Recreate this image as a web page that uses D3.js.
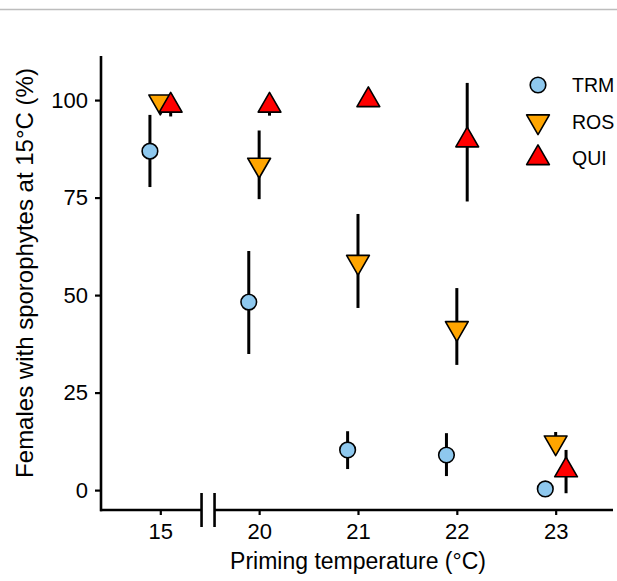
<!DOCTYPE html>
<html>
<head>
<meta charset="utf-8">
<script src="https://cdn.jsdelivr.net/npm/d3@7"></script>
<style>
  body { margin: 0; background: #fff; }
  svg { display: block; font-family: "Liberation Sans", Arial, sans-serif; }
</style>
</head>
<body>
<div id="chart"></div>
<script>
// categories on the x axis (priming temperature)
const temps = ["15", "20", "21", "22", "23"];
const groups = ["TRM", "ROS", "QUI"];

// mean % and error bar ends, per group, per temperature
const trmMean = [86.9, 48.2, 10.3, 9.0, 0.3];
const trmHi   = [96.2, 61.3, 15.1, 14.6, 0.3];
const trmLo   = [77.7, 34.9, 5.4, 3.6, 0.3];

const rosMean = [99.6, 83.4, 58.5, 41.5, 12.2];
const rosHi   = [99.6, 92.2, 70.8, 51.8, 14.9];
const rosLo   = [99.6, 74.6, 46.7, 32.1, 12.2];

const quiMean = [98.6, 98.6, 100, 89.7, 5.1];
const quiHi   = [99.6, 99.6, 100, 104.4, 10.3];
const quiLo   = [95.8, 96.0, 100, 74.0, -0.8];

const yTicks = [0, 25, 50, 75, 100];

const W = 617, H = 581;
const svg = d3.select("#chart").append("svg")
    .attr("width", W)
    .attr("height", H);

// thin grey rule at the very top
svg.append("line")
    .attr("x1", 0).attr("x2", W)
    .attr("y1", 9.5).attr("y2", 9.5)
    .attr("stroke", "#bdbdbd")
    .attr("stroke-width", 1.5);

const x = d3.scaleLinear().domain([-0.6, 4.58]).range([101, 613]);
const y = d3.scaleLinear().domain([-5.1, 111.3]).range([510, 56]);

const dodge = {TRM: -0.105, ROS: 0, QUI: 0.105};
const fills = {TRM: "#8ec8ee", ROS: "#ffa500", QUI: "#ff0000"};

const series = [
    {name: "TRM", mean: trmMean, hi: trmHi, lo: trmLo},
    {name: "ROS", mean: rosMean, hi: rosHi, lo: rosLo},
    {name: "QUI", mean: quiMean, hi: quiHi, lo: quiLo}
];

// axes
const yAxis = svg.append("g")
    .attr("transform", "translate(101,0)")
    .call(d3.axisLeft(y).tickValues(yTicks).tickSize(6).tickPadding(7));
yAxis.select(".domain").remove();
yAxis.append("line")
    .attr("x1", 0).attr("x2", 0)
    .attr("y1", y(111.3)).attr("y2", y(-5.1) + 1.2)
    .attr("stroke", "#000").attr("stroke-width", 2.6);

const xAxis = svg.append("g")
    .attr("transform", "translate(0,510)")
    .call(d3.axisBottom(x).tickValues(d3.range(temps.length))
        .tickFormat(i => temps[i]).tickSize(5).tickPadding(8));
xAxis.select(".domain").remove();
xAxis.append("line")
    .attr("x1", 100).attr("x2", 613)
    .attr("y1", 0).attr("y2", 0)
    .attr("stroke", "#000").attr("stroke-width", 2.6);

[yAxis, xAxis].forEach(g => {
    g.attr("font-family", null).attr("font-size", null)
        .style("font-size", "22px");
    g.selectAll(".tick line").attr("stroke", "#000").attr("stroke-width", 2.2);
    g.selectAll(".tick text").attr("fill", "#000").style("font-size", "22px");
});

// axis break between 15 and 20
const bx = x(0.483);
xAxis.append("rect")
    .attr("x", bx - 6.5).attr("y", -3)
    .attr("width", 13).attr("height", 6)
    .attr("fill", "#fff");
[-6.5, 6.5].forEach(o => {
    xAxis.append("line")
        .attr("x1", bx + o).attr("x2", bx + o)
        .attr("y1", -17).attr("y2", 17)
        .attr("stroke", "#000").attr("stroke-width", 2.6);
});

// axis titles
svg.append("text")
    .attr("x", 358).attr("y", 569)
    .attr("text-anchor", "middle")
    .style("font-size", "23px")
    .text("Priming temperature (°C)");

svg.append("text")
    .attr("transform", "translate(33,273) rotate(-90)")
    .attr("text-anchor", "middle")
    .style("font-size", "24px")
    .text("Females with sporophytes at 15°C (%)");

// symbol shapes
const triUp = d3.symbol().type(d3.symbolTriangle).size(225);
function drawMark(g, name, cx, cy) {
    if (name === "TRM") {
        g.append("circle").attr("cx", cx).attr("cy", cy).attr("r", 7.8)
            .attr("fill", fills.TRM).attr("stroke", "#000").attr("stroke-width", 1.6);
    } else {
        g.append("path").attr("d", triUp())
            .attr("transform", `translate(${cx},${cy})` + (name === "ROS" ? " rotate(180)" : ""))
            .attr("fill", fills[name]).attr("stroke", "#000").attr("stroke-width", 1.6)
            .attr("stroke-linejoin", "round");
    }
}

const plot = svg.append("g");
series.forEach(s => {
    const g = plot.append("g");
    temps.forEach((t, i) => {
        const cx = x(i + dodge[s.name]);
        g.append("line")
            .attr("x1", cx).attr("x2", cx)
            .attr("y1", y(s.hi[i])).attr("y2", y(s.lo[i]))
            .attr("stroke", "#000").attr("stroke-width", 3);
        drawMark(g, s.name, cx, y(s.mean[i]));
    });
});

// legend
const legend = svg.append("g");
groups.forEach((name, k) => {
    const ly = 85 + k * 36.5;
    drawMark(legend, name, 538, ly);
    legend.append("text")
        .attr("x", 572).attr("y", ly + 7)
        .style("font-size", "19.5px")
        .text(name);
});
</script>
</body>
</html>
